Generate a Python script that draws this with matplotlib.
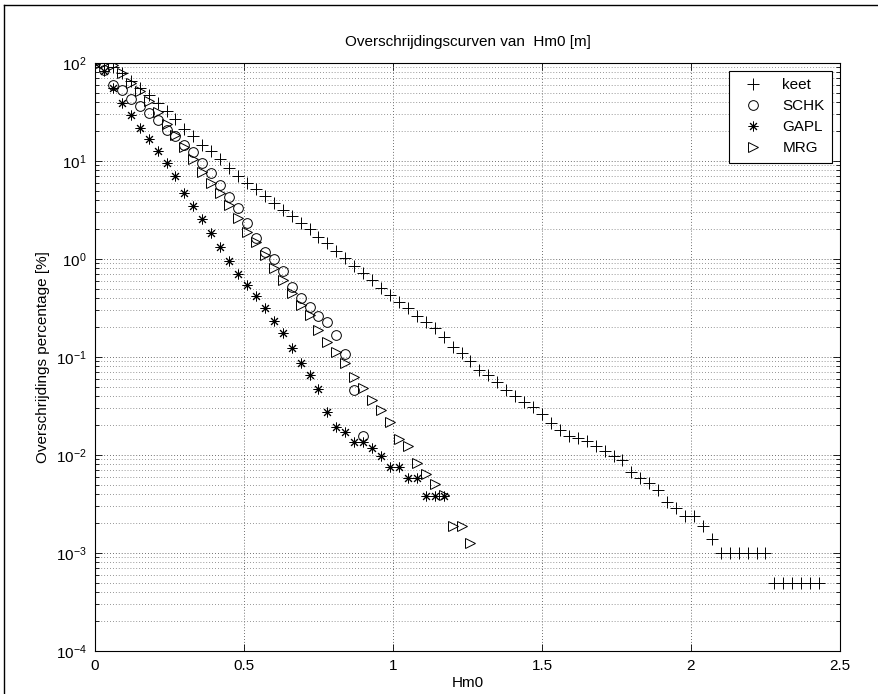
import matplotlib
matplotlib.use("Agg")
import matplotlib.pyplot as plt
from matplotlib.ticker import LogLocator, NullFormatter, FixedLocator
from matplotlib.lines import Line2D

plt.rcParams['font.family'] = ['Liberation Sans', 'DejaVu Sans']
plt.rcParams['mathtext.fontset'] = 'custom'
plt.rcParams['mathtext.rm'] = 'Liberation Sans'
plt.rcParams['mathtext.it'] = 'Liberation Sans'

# Hm0 class values [m]
hm0_bins = [0.00, 0.03, 0.06, 0.09, 0.12, 0.15, 0.18, 0.21, 0.24, 0.27,
            0.30, 0.33, 0.36, 0.39, 0.42, 0.45, 0.48, 0.51, 0.54, 0.57,
            0.60, 0.63, 0.66, 0.69, 0.72, 0.75, 0.78, 0.81, 0.84, 0.87,
            0.90, 0.93, 0.96, 0.99, 1.02, 1.05, 1.08, 1.11, 1.14, 1.17,
            1.20, 1.23, 1.26, 1.29, 1.32, 1.35, 1.38, 1.41, 1.44, 1.47,
            1.50, 1.53, 1.56, 1.59, 1.62, 1.65, 1.68, 1.71, 1.74, 1.77,
            1.80, 1.83, 1.86, 1.89, 1.92, 1.95, 1.98, 2.01, 2.04, 2.07,
            2.10, 2.13, 2.16, 2.19, 2.22, 2.25, 2.28, 2.31, 2.34, 2.37,
            2.40, 2.43]

# exceedance percentages [%]
keet = [100, 99, 91.2, 79.4, 66.1, 55.0, 46.8, 38.9, 32.4, 26.9,
        21.4, 17.8, 14.5, 12.6, 10.5, 8.5, 7.1, 6.0, 5.2, 4.4,
        3.76, 3.16, 2.75, 2.34, 2.0, 1.69, 1.47, 1.22, 1.02, 0.85,
        0.72, 0.61, 0.51, 0.43, 0.366, 0.314, 0.262, 0.228, 0.196, 0.161,
        0.127, 0.109, 0.091, 0.074, 0.066, 0.055, 0.046, 0.040, 0.035, 0.031,
        0.026, 0.0214, 0.0178, 0.0158, 0.0148, 0.0138, 0.0123, 0.0110, 0.0097, 0.0089,
        0.0067, 0.0058, 0.0052, 0.0044, 0.0033, 0.0029, 0.0024, 0.0024, 0.0019, 0.0014,
        0.001, 0.001, 0.001, 0.001, 0.001, 0.001,
        0.0005, 0.0005, 0.0005, 0.0005, 0.0005, 0.0005]

schk = [100, 85, 60, 52.5, 42.7, 36.3, 30.9, 26.2, 20.7, 18.0,
        14.6, 12.4, 9.5, 7.5, 5.7, 4.3, 3.3, 2.33, 1.62, 1.19,
        0.99, 0.76, 0.52, 0.40, 0.326, 0.262, 0.229, 0.168, 0.107, 0.046,
        0.0158]

gapl = [100, 83, 55.2, 39.4, 29.4, 21.6, 16.6, 12.7, 9.5, 7.0,
        4.7, 3.5, 2.57, 1.85, 1.34, 0.96, 0.70, 0.54, 0.42, 0.314,
        0.235, 0.175, 0.124, 0.0875, 0.0655, 0.0468, 0.0277, 0.0195, 0.0173, 0.0137,
        0.0137, 0.0117, 0.0098, 0.0076, 0.0076, 0.0058, 0.0058, 0.00385, 0.00385, 0.00385]

mrg = [100, 99.5, 95.5, 79.4, 63.1, 52.1, 40.7, 31.8, 23.9, 18.4,
       14.0, 10.6, 7.8, 6.0, 4.7, 3.55, 2.63, 1.90, 1.50, 1.10,
       0.80, 0.61, 0.447, 0.34, 0.27, 0.189, 0.143, 0.113, 0.0863, 0.063,
       0.0484, 0.0364, 0.0288, 0.0216, 0.0146, 0.0124, 0.0082, 0.0064, 0.0051, 0.0039,
       0.0019, 0.0019, 0.00127]

series_names = ['keet', 'SCHK', 'GAPL', 'MRG']
series_values = [keet, schk, gapl, mrg]

x_ticks = [0, 0.5, 1, 1.5, 2, 2.5]
x_tick_labels = ['0', '0.5', '1', '1.5', '2', '2.5']

W, H = 879, 694
fig = plt.figure(figsize=(W / 100, H / 100), dpi=100)
ax = fig.add_axes([95 / W, 1 - 651 / H, (840 - 95) / W, (651 - 63) / H])

marker_styles = [('+', 8), ('o', 7), ((8, 2, 0), 7), ('>', 7)]
for name, vals, (mk, ms) in zip(series_names, series_values, marker_styles):
    xs = hm0_bins[:len(vals)]
    ax.plot(xs, vals, linestyle='none', marker=mk, markersize=ms,
            markerfacecolor='none', markeredgecolor='black',
            markeredgewidth=0.7, color='black', label=name)

ax.set_yscale('log')
ax.set_xlim(0, 2.5)
ax.set_ylim(1e-4, 1e2)
ax.xaxis.set_major_locator(FixedLocator(x_ticks))
ax.set_xticklabels(x_tick_labels)
ax.yaxis.set_major_locator(LogLocator(base=10, numticks=10))
ax.yaxis.set_minor_locator(LogLocator(base=10, subs=range(2, 10), numticks=20))
ax.yaxis.set_minor_formatter(NullFormatter())

ax.grid(True, which='major', axis='both', color='0.25', linestyle=(0, (1, 2.5)), linewidth=0.6)
ax.grid(True, which='minor', axis='y', color='0.45', linestyle=(0, (1, 2.5)), linewidth=0.6)
ax.set_axisbelow(True)

ax.tick_params(which='both', direction='in', top=True, right=True, labelsize=11, width=0.6)
ax.tick_params(which='major', length=5, pad=6)
ax.tick_params(which='minor', length=3)
for s in ax.spines.values():
    s.set_linewidth(0.8)

ax.set_title('Overschrijdingscurven van  Hm0 [m]', fontsize=11, pad=12)
ax.set_xlabel('Hm0', fontsize=11, labelpad=2)
ax.set_ylabel('Overschrijdings percentage [%]', fontsize=11, labelpad=4)

leg = ax.legend(loc='upper right', fontsize=11, frameon=True, fancybox=False,
                edgecolor='black', framealpha=1, borderpad=0.5, handlelength=2.2,
                handletextpad=0.8, labelspacing=0.45, borderaxespad=0.5)
leg.get_frame().set_linewidth(0.8)

# figure frame (top and left edges visible in reference)
fig.add_artist(Line2D([4 / W, 1], [1 - 5 / H, 1 - 5 / H], transform=fig.transFigure, color='black', lw=1))
fig.add_artist(Line2D([4 / W, 4 / W], [0, 1 - 5 / H], transform=fig.transFigure, color='black', lw=1))

fig.savefig('out.png', dpi=100)
